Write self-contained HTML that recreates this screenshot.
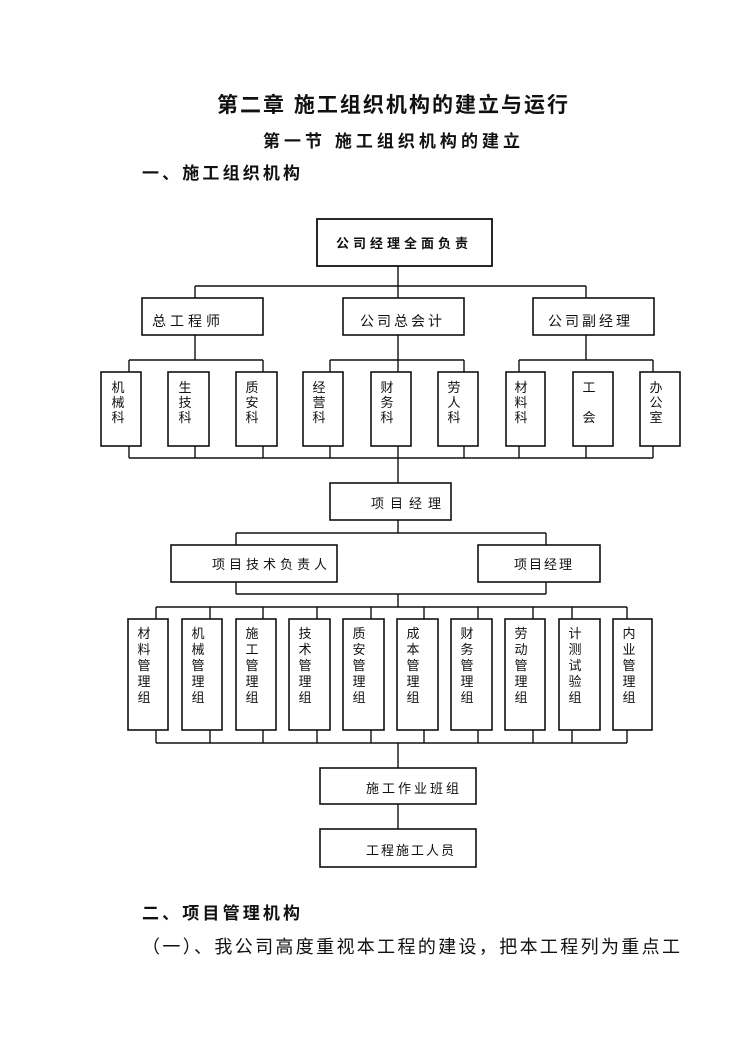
<!DOCTYPE html>
<html><head><meta charset="utf-8"><style>
html,body{margin:0;padding:0;background:#fff;}
svg{display:block;}
text{font-family:"Liberation Sans","Noto Sans CJK SC",sans-serif;fill:#111;}
</style></head><body>
<svg width="744" height="1052" viewBox="0 0 744 1052" xmlns="http://www.w3.org/2000/svg">
<text x="217" y="112" font-size="21" font-weight="bold" textLength="351" lengthAdjust="spacing">第二章 施工组织机构的建立与运行</text>
<text x="263" y="147" font-size="17" font-weight="bold" textLength="257" lengthAdjust="spacing">第一节 施工组织机构的建立</text>
<text x="142" y="179" font-size="17" font-weight="bold" textLength="158" lengthAdjust="spacing">一、施工组织机构</text>
<text x="142" y="919" font-size="17" font-weight="bold" textLength="158" lengthAdjust="spacing">二、项目管理机构</text>
<text x="142" y="953" font-size="18" textLength="538" lengthAdjust="spacing">（一）、我公司高度重视本工程的建设，把本工程列为重点工</text>

<g stroke="#111" stroke-width="1.4" fill="none">
<rect x="317" y="219" width="175" height="47" stroke-width="1.8"/>
<path d="M398 266V298M195 286H586M195 286V298M586 286V298M398 335V372M398 446V483"/>
<rect x="142" y="298" width="121" height="37" stroke-width="1.6"/>
<rect x="343" y="298" width="121" height="37" stroke-width="1.6"/>
<rect x="533" y="298" width="121" height="37" stroke-width="1.6"/>
<path d="M195 335V360M586 335V360M129 360H263M330 360H464M519 360H653"/>
<path d="M129 360V372M263 360V372M330 360V372M464 360V372M519 360V372M653 360V372"/>
<g stroke-width="1.6">
<rect x="101" y="372" width="40" height="74"/>
<rect x="168" y="372" width="41" height="74"/>
<rect x="236" y="372" width="41" height="74"/>
<rect x="303" y="372" width="40" height="74"/>
<rect x="371" y="372" width="40" height="74"/>
<rect x="438" y="372" width="40" height="74"/>
<rect x="506" y="372" width="39" height="74"/>
<rect x="573" y="372" width="40" height="74"/>
<rect x="640" y="372" width="40" height="74"/>
</g>
<path d="M129 458H653M129 446V458M195 446V458M263 446V458M330 446V458M464 446V458M519 446V458M586 446V458M653 446V458"/>
<rect x="330" y="483" width="121" height="37" stroke-width="1.6"/>
<path d="M398 520V533M236 533H546M236 533V545M546 533V545"/>
<rect x="171" y="545" width="166" height="37" stroke-width="1.6"/>
<rect x="478" y="545" width="122" height="37" stroke-width="1.6"/>
<path d="M236 582V594M546 582V594M236 594H546M398 594V607M156 607H627"/>
<path d="M156 607V619M210 607V619M263 607V619M317 607V619M371 607V619M424 607V619M478 607V619M533 607V619M572 607V619M627 607V619"/>
<g stroke-width="1.6">
<rect x="128" y="619" width="40" height="111"/>
<rect x="182" y="619" width="40" height="111"/>
<rect x="236" y="619" width="40" height="111"/>
<rect x="289" y="619" width="41" height="111"/>
<rect x="343" y="619" width="41" height="111"/>
<rect x="397" y="619" width="41" height="111"/>
<rect x="451" y="619" width="41" height="111"/>
<rect x="505" y="619" width="40" height="111"/>
<rect x="559" y="619" width="41" height="111"/>
<rect x="613" y="619" width="39" height="111"/>
</g>
<path d="M156 743H627M156 730V743M210 730V743M263 730V743M317 730V743M371 730V743M424 730V743M478 730V743M533 730V743M572 730V743M627 730V743M398 743V768"/>
<rect x="320" y="768" width="156" height="36" stroke-width="1.6"/>
<path d="M398 804V829"/>
<rect x="320" y="829" width="156" height="38" stroke-width="1.6"/>
</g>

<g font-size="13">
<text x="404" y="248" font-size="13" font-weight="bold" text-anchor="middle" letter-spacing="4">公司经理全面负责</text>
<text x="152" y="326" font-size="14" letter-spacing="4">总工程师</text>
<text x="360" y="326" font-size="14" letter-spacing="3">公司总会计</text>
<text x="548" y="326" font-size="14" letter-spacing="3">公司副经理</text>
<text x="409" y="508" font-size="13" text-anchor="middle" letter-spacing="6">项目经理</text>
<text x="212" y="569" font-size="13" letter-spacing="4">项目技术负责人</text>
<text x="514" y="569" font-size="13" letter-spacing="2">项目经理</text>
<text x="366" y="793" font-size="13" letter-spacing="3">施工作业班组</text>
<text x="366" y="855" font-size="13" letter-spacing="2">工程施工人员</text>
</g>

<g font-size="13" text-anchor="middle">
<text x="118" y="392">机</text><text x="118" y="407">械</text><text x="118" y="422">科</text>
<text x="185" y="392">生</text><text x="185" y="407">技</text><text x="185" y="422">科</text>
<text x="252" y="392">质</text><text x="252" y="407">安</text><text x="252" y="422">科</text>
<text x="319" y="392">经</text><text x="319" y="407">营</text><text x="319" y="422">科</text>
<text x="387" y="392">财</text><text x="387" y="407">务</text><text x="387" y="422">科</text>
<text x="454" y="392">劳</text><text x="454" y="407">人</text><text x="454" y="422">科</text>
<text x="521" y="392">材</text><text x="521" y="407">料</text><text x="521" y="422">科</text>
<text x="589" y="392">工</text><text x="589" y="422">会</text>
<text x="656" y="392">办</text><text x="656" y="407">公</text><text x="656" y="422">室</text>
</g>
<g font-size="13" text-anchor="middle">
<text x="144" y="638">材</text><text x="144" y="654">料</text><text x="144" y="670">管</text><text x="144" y="686">理</text><text x="144" y="702">组</text>
<text x="198" y="638">机</text><text x="198" y="654">械</text><text x="198" y="670">管</text><text x="198" y="686">理</text><text x="198" y="702">组</text>
<text x="252" y="638">施</text><text x="252" y="654">工</text><text x="252" y="670">管</text><text x="252" y="686">理</text><text x="252" y="702">组</text>
<text x="305" y="638">技</text><text x="305" y="654">术</text><text x="305" y="670">管</text><text x="305" y="686">理</text><text x="305" y="702">组</text>
<text x="359" y="638">质</text><text x="359" y="654">安</text><text x="359" y="670">管</text><text x="359" y="686">理</text><text x="359" y="702">组</text>
<text x="413" y="638">成</text><text x="413" y="654">本</text><text x="413" y="670">管</text><text x="413" y="686">理</text><text x="413" y="702">组</text>
<text x="467" y="638">财</text><text x="467" y="654">务</text><text x="467" y="670">管</text><text x="467" y="686">理</text><text x="467" y="702">组</text>
<text x="521" y="638">劳</text><text x="521" y="654">动</text><text x="521" y="670">管</text><text x="521" y="686">理</text><text x="521" y="702">组</text>
<text x="575" y="638">计</text><text x="575" y="654">测</text><text x="575" y="670">试</text><text x="575" y="686">验</text><text x="575" y="702">组</text>
<text x="629" y="638">内</text><text x="629" y="654">业</text><text x="629" y="670">管</text><text x="629" y="686">理</text><text x="629" y="702">组</text>
</g>
</svg>
</body></html>
